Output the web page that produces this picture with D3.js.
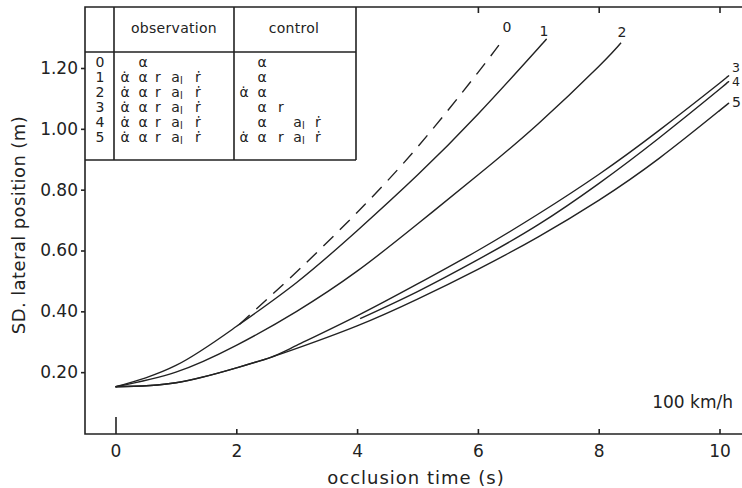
<!DOCTYPE html>
<meta charset="utf-8">
<script src="https://d3js.org/d3.v7.min.js"></script>
<style type="text/css">
  body { margin: 0; background: #fff; }
  text { font-family: "DejaVu Sans", sans-serif; fill: #222; }
</style>
<body>
<svg width="742" height="488"></svg>
<script>

    // occlusion time (s) and SD lateral position (m)
    let curve0 = [[2.05,0.357],[3,0.53],[4,0.725],[5,0.94],[6,1.185],[6.42,1.295]]
    let curve1 = [[0,0.152],[1,0.222],[2,0.35],[3,0.495],[4,0.665],[5,0.848],[6,1.048],[7,1.265],[7.08,1.283]]
    let curve2 = [[0,0.152],[1,0.20],[2,0.288],[3,0.40],[4,0.532],[5,0.687],[6,0.848],[7,1.017],[8,1.205],[8.37,1.283]]
    let curve3 = [[0,0.152],[1,0.165],[2,0.214],[2.56,0.248],[3,0.288],[4,0.385],[5,0.49],[6,0.60],[7,0.72],[8,0.85],[9,0.995],[10,1.15],[10.12,1.17]]
    let curve4 = [[4.05,0.376],[5,0.465],[6,0.57],[7,0.685],[8,0.82],[9,0.97],[10,1.13],[10.12,1.151]]
    let curve5 = [[0,0.152],[1,0.165],[2,0.214],[2.56,0.248],[3,0.278],[4,0.352],[5,0.44],[6,0.538],[7,0.645],[8,0.765],[9,0.903],[10,1.06],[10.12,1.079]]

    let curves = [curve0, curve1, curve2, curve3, curve4, curve5]
    let curveLabels = ['0','1','2','3','4','5']

    let xTicks = [0,2,4,6,8,10],
        yTicks = [0.2,0.4,0.6,0.8,1.0,1.2]

    // table
    let rowLabels = ['0','1','2','3','4','5']
    let symbols = ['α\u0307','α','r','al','\u1E59']
    let observation = [[0,1,0,0,0],[1,1,1,1,1],[1,1,1,1,1],[1,1,1,1,1],[1,1,1,1,1],[1,1,1,1,1]]
    let control = [[0,1,0,0,0],[0,1,0,0,0],[1,1,0,0,0],[0,1,1,0,0],[0,1,0,1,1],[1,1,1,1,1]]

    let svg = d3.select('svg'),
        stroke = '#222'

    let x = d3.scaleLinear().domain([0,10]).range([115.5,719.5]),
        y = d3.scaleLinear().domain([0,1.2]).range([433,68])

    let fLeft = 85, fTop = 7, fBottom = 434, fRight = 742

    // frame
    svg.append('path')
        .attr('d', `M${fRight},${fTop}H${fLeft}V${fBottom}H${fRight}`)
        .attr('fill','none').attr('stroke',stroke).attr('stroke-width',1.6)

    // bottom axis, inward ticks
    let xAxis = svg.append('g').attr('transform',`translate(0,${fBottom})`)
        .call(d3.axisBottom(x).tickValues(xTicks).tickSize(-5).tickPadding(11).tickFormat(d3.format('d')))
    xAxis.select('.domain').remove()
    xAxis.selectAll('line').attr('stroke',stroke).attr('stroke-width',1.6)
    xAxis.selectAll('line').filter(d=>d===0).attr('y2',-17)
    xAxis.selectAll('text').attr('font-size',17).attr('fill','#222').attr('font-family','DejaVu Sans')

    // top ticks
    let topAxis = svg.append('g').attr('transform',`translate(0,${fTop})`)
        .call(d3.axisTop(x).tickValues([6,8,10]).tickSize(-6).tickFormat(''))
    topAxis.select('.domain').remove()
    topAxis.selectAll('line').attr('stroke',stroke).attr('stroke-width',1.6)

    // left axis
    let yAxis = svg.append('g').attr('transform',`translate(${fLeft},0)`)
        .call(d3.axisLeft(y).tickValues(yTicks).tickSize(4).tickPadding(3).tickFormat(d3.format('.2f')))
    yAxis.select('.domain').remove()
    yAxis.selectAll('line').attr('stroke',stroke).attr('stroke-width',1.6)
    yAxis.selectAll('text').attr('font-size',17).attr('fill','#222').attr('font-family','DejaVu Sans')

    // axis titles
    svg.append('text').attr('x',416).attr('y',484).attr('text-anchor','middle')
        .attr('font-size',18).attr('letter-spacing',1).text('occlusion time (s)')
    svg.append('text').attr('transform','translate(25,225) rotate(-90)').attr('text-anchor','middle')
        .attr('font-size',18).attr('letter-spacing',0.4).text('SD. lateral position (m)')
    svg.append('text').attr('x',733).attr('y',408).attr('text-anchor','end')
        .attr('font-size',17).text('100 km/h')

    // curves
    let line = d3.line().x(d=>x(d[0])).y(d=>y(d[1])).curve(d3.curveNatural)
    svg.selectAll('path.curve').data(curves).enter().append('path')
        .attr('class','curve')
        .attr('d', line)
        .attr('fill','none')
        .attr('stroke',stroke)
        .attr('stroke-width',1.4)
        .attr('stroke-dasharray',(d,i)=> i===0 ? '14,9' : null)

    let labelPos = [[507,32,'middle'],[544,36,'middle'],[622,37,'middle'],[732,72,'start'],[732,85.5,'start'],[732,107,'start']]
    svg.selectAll('text.clabel').data(curveLabels).enter().append('text')
        .attr('class','clabel')
        .attr('x',(d,i)=>labelPos[i][0]).attr('y',(d,i)=>labelPos[i][1])
        .attr('text-anchor',(d,i)=>labelPos[i][2])
        .attr('font-size',(d,i)=> i===3||i===4 ? 12.5 : 14).text(d=>d)

    // table
    let tRight = 356, tBottom = 160, headLine = 52, col1 = 114, col2 = 234
    let tg = svg.append('g')
    tg.append('path')
        .attr('d',`M${fLeft},${headLine}H${tRight}M${fLeft},${tBottom}H${tRight}M${tRight},${fTop}V${tBottom}M${col1},${fTop}V${tBottom}M${col2},${fTop}V${tBottom}`)
        .attr('fill','none').attr('stroke',stroke).attr('stroke-width',1.6)

    tg.append('text').attr('x',174).attr('y',33).attr('text-anchor','middle').attr('font-size',14).attr('letter-spacing',0.3).text('observation')
    tg.append('text').attr('x',294).attr('y',33).attr('text-anchor','middle').attr('font-size',14).attr('letter-spacing',0.3).text('control')

    let rowY = i => 67 + i*15
    tg.selectAll('text.row').data(rowLabels).enter().append('text')
        .attr('class','row').attr('x',100).attr('y',(d,i)=>rowY(i))
        .attr('text-anchor','middle').attr('font-size',14).text(d=>d)

    let obsX = [125,143,158,177,198],
        ctrlX = [244,262,281,299,318]

    function drawCells(mask, xs){
        mask.forEach((row,i)=>{
            row.forEach((on,j)=>{
                if(!on) return
                let t = tg.append('text').attr('x',xs[j]).attr('y',rowY(i))
                    .attr('text-anchor','middle').attr('font-size',14)
                if(symbols[j]==='al'){
                    t.append('tspan').text('a')
                    t.append('tspan').attr('font-size',10).attr('dy',2).text('l')
                } else {
                    t.text(symbols[j])
                }
            })
        })
    }
    drawCells(observation, obsX)
    drawCells(control, ctrlX)

</script>
</body>
